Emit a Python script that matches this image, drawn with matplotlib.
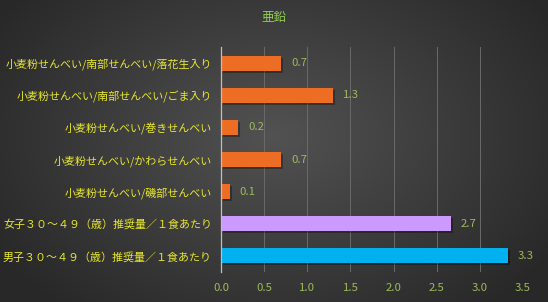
import numpy as np
import matplotlib
matplotlib.use("Agg")
import matplotlib.pyplot as plt
from matplotlib.transforms import ScaledTranslation

plt.rcParams['font.family'] = ['Noto Sans CJK JP', 'DejaVu Sans']

title = "亜鉛"
categories = [
    "男子３０～４９（歳）推奨量／１食あたり",
    "女子３０～４９（歳）推奨量／１食あたり",
    "小麦粉せんべい/磯部せんべい",
    "小麦粉せんべい/かわらせんべい",
    "小麦粉せんべい/巻きせんべい",
    "小麦粉せんべい/南部せんべい/ごま入り",
    "小麦粉せんべい/南部せんべい/落花生入り",
]
values = [3.33, 2.67, 0.1, 0.7, 0.2, 1.3, 0.7]
colors = ["#00b0f0", "#cc99ff", "#ee6d25", "#ee6d25", "#ee6d25", "#ee6d25", "#ee6d25"]
xticks = [0.0, 0.5, 1.0, 1.5, 2.0, 2.5, 3.0, 3.5]

W, H = 548, 302
fig = plt.figure(figsize=(W / 100, H / 100), dpi=100)

# background radial gradient
bg = fig.add_axes([0, 0, 1, 1], zorder=-10)
yy, xx = np.mgrid[0:H, 0:W]
r = np.sqrt(((xx - W * 0.5) / (W * 0.6)) ** 2 + ((yy - H * 0.45) / (H * 0.75)) ** 2)
r = np.clip(r, 0, 1)
c0 = np.array([0x52, 0x52, 0x52]) / 255
c1 = np.array([0x28, 0x28, 0x28]) / 255
img = c0[None, None, :] * (1 - r[..., None]) + c1[None, None, :] * r[..., None]
bg.imshow(img, aspect='auto', extent=[0, 1, 0, 1])
bg.set_axis_off()

ax = fig.add_axes([221 / W, 1 - 272 / H, (523 - 221) / W, (272 - 47) / H])
ax.set_facecolor('none')
y = np.arange(len(categories))
h = 0.47

# shadow
shadow_tr = ax.transData + ScaledTranslation(2 / 100, -2 / 100, fig.dpi_scale_trans)
ax.barh(y, values, height=h, color='black', alpha=0.3, transform=shadow_tr, zorder=2)
bars = ax.barh(y, values, height=h, color=colors, zorder=3)

for yi, v in zip(y, values):
    ax.annotate(f"{v:.1f}", (v, yi), xytext=(7, 0), textcoords='offset points',
                va='center', ha='left', color='#9bbb59', fontsize=8.2, zorder=4)

ax.set_xlim(0, 3.5)
ax.set_ylim(-0.5, len(categories) - 0.5)
ax.set_xticks(xticks)
ax.set_xticklabels([f"{t:.1f}" for t in xticks], color='#9bbb59', fontsize=8.2)
ax.set_yticks(y)
ax.set_yticklabels(categories, color='#e8e830', fontsize=7.9)
ax.tick_params(axis='both', length=0)
ax.tick_params(axis='y', pad=6.5)
ax.tick_params(axis='x', pad=8)
ax.grid(axis='x', color='#6a6a6a', linewidth=0.7, zorder=0)
ax.set_axisbelow(True)
for s in ['top', 'right', 'bottom']:
    ax.spines[s].set_visible(False)
ax.spines['left'].set_color('#bfbfbf')
ax.spines['left'].set_linewidth(0.9)
ax.spines['left'].set_zorder(5)

fig.text(0.5, 1 - 18 / H, title, ha='center', va='center', color='#92d050', fontsize=9)

fig.savefig("out.png", dpi=100)
